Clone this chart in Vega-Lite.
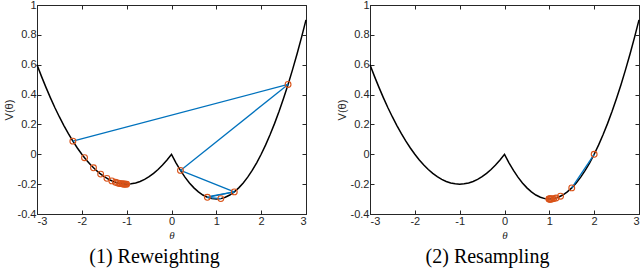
{
  "$schema": "https://vega.github.io/schema/vega-lite/v6.json",
  "padding": {"left": 2, "top": -2, "right": 0, "bottom": 0},
  "background": "white",
  "config": {
    "view": {"stroke": "#262626", "strokeWidth": 1},
    "axis": {
      "grid": false,
      "labelFont": "Liberation Sans",
      "labelFontSize": 11,
      "labelColor": "#262626",
      "domainColor": "#262626",
      "tickColor": "#262626",
      "tickSize": -4,
      "labelPadding": 5,
      "titleFont": "Liberation Sans",
      "titleFontSize": 11,
      "titleFontWeight": "normal",
      "titleColor": "#262626"
    },
    "title": {"font": "Liberation Serif", "fontSize": 20, "fontWeight": "normal", "color": "#000000"}
  },
  "datasets": {
    "curve": [
      {"t": -3.0, "v": 0.6}, {"t": -2.9, "v": 0.522}, {"t": -2.8, "v": 0.448}, {"t": -2.7, "v": 0.378},
      {"t": -2.6, "v": 0.312}, {"t": -2.5, "v": 0.25}, {"t": -2.4, "v": 0.192}, {"t": -2.3, "v": 0.138},
      {"t": -2.2, "v": 0.088}, {"t": -2.1, "v": 0.042}, {"t": -2.0, "v": 0.0}, {"t": -1.9, "v": -0.038},
      {"t": -1.8, "v": -0.072}, {"t": -1.7, "v": -0.102}, {"t": -1.6, "v": -0.128}, {"t": -1.5, "v": -0.15},
      {"t": -1.4, "v": -0.168}, {"t": -1.3, "v": -0.182}, {"t": -1.2, "v": -0.192}, {"t": -1.1, "v": -0.198},
      {"t": -1.0, "v": -0.2}, {"t": -0.9, "v": -0.198}, {"t": -0.8, "v": -0.192}, {"t": -0.7, "v": -0.182},
      {"t": -0.6, "v": -0.168}, {"t": -0.5, "v": -0.15}, {"t": -0.4, "v": -0.128}, {"t": -0.3, "v": -0.102},
      {"t": -0.2, "v": -0.072}, {"t": -0.1, "v": -0.038}, {"t": 0.0, "v": 0.0}, {"t": 0.1, "v": -0.057},
      {"t": 0.2, "v": -0.108}, {"t": 0.3, "v": -0.153}, {"t": 0.4, "v": -0.192}, {"t": 0.5, "v": -0.225},
      {"t": 0.6, "v": -0.252}, {"t": 0.7, "v": -0.273}, {"t": 0.8, "v": -0.288}, {"t": 0.9, "v": -0.297},
      {"t": 1.0, "v": -0.3}, {"t": 1.1, "v": -0.297}, {"t": 1.2, "v": -0.288}, {"t": 1.3, "v": -0.273},
      {"t": 1.4, "v": -0.252}, {"t": 1.5, "v": -0.225}, {"t": 1.6, "v": -0.192}, {"t": 1.7, "v": -0.153},
      {"t": 1.8, "v": -0.108}, {"t": 1.9, "v": -0.057}, {"t": 2.0, "v": 0.0}, {"t": 2.1, "v": 0.063},
      {"t": 2.2, "v": 0.132}, {"t": 2.3, "v": 0.207}, {"t": 2.4, "v": 0.288}, {"t": 2.5, "v": 0.375},
      {"t": 2.6, "v": 0.468}, {"t": 2.7, "v": 0.567}, {"t": 2.8, "v": 0.672}, {"t": 2.9, "v": 0.783},
      {"t": 3.0, "v": 0.9}
    ],
    "pts1": [
      {"t": -2.2, "v": 0.088}, {"t": -1.94, "v": -0.023}, {"t": -1.74, "v": -0.0905}, {"t": -1.58, "v": -0.1327},
      {"t": -1.44, "v": -0.1613}, {"t": -1.33, "v": -0.1782}, {"t": -1.25, "v": -0.1875}, {"t": -1.2, "v": -0.192},
      {"t": -1.16, "v": -0.1949}, {"t": -1.13, "v": -0.1966}, {"t": -1.1, "v": -0.198}, {"t": -1.08, "v": -0.1987},
      {"t": -1.06, "v": -0.1993}, {"t": -1.04, "v": -0.1997}, {"t": -1.02, "v": -0.1999}, {"t": -1.0, "v": -0.2},
      {"t": 2.6, "v": 0.468}, {"t": 0.2, "v": -0.108}, {"t": 1.4, "v": -0.252}, {"t": 0.8, "v": -0.288},
      {"t": 1.1, "v": -0.297}
    ],
    "seg1": [
      {"t": -2.2, "v": 0.088, "t2": 2.6, "v2": 0.468},
      {"t": 2.6, "v": 0.468, "t2": 0.2, "v2": -0.108},
      {"t": 0.2, "v": -0.108, "t2": 1.4, "v2": -0.252},
      {"t": 1.4, "v": -0.252, "t2": 0.8, "v2": -0.288},
      {"t": 0.8, "v": -0.288, "t2": 1.1, "v2": -0.297},
      {"t": 1.4, "v": -0.252, "t2": 0.85, "v2": -0.282}
    ],
    "pts2": [
      {"t": 2.0, "v": 0.0}, {"t": 1.5, "v": -0.225}, {"t": 1.25, "v": -0.281}, {"t": 1.15, "v": -0.293},
      {"t": 1.1, "v": -0.297}, {"t": 1.07, "v": -0.2985}, {"t": 1.05, "v": -0.2993}, {"t": 1.03, "v": -0.2997},
      {"t": 1.02, "v": -0.2999}, {"t": 1.01, "v": -0.3}, {"t": 1.0, "v": -0.3}, {"t": 0.99, "v": -0.3}
    ],
    "seg2": [
      {"t": 1.5, "v": -0.225, "t2": 2.0, "v2": 0.0}
    ]
  },
  "hconcat": [
    {
      "width": 269,
      "height": 209,
      "title": {"text": "(1) Reweighting", "orient": "bottom", "offset": 7, "dx": -17},
      "resolve": {"axis": {"x": "independent", "y": "independent"}},
      "layer": [
        {
          "data": {"name": "curve"},
          "mark": {"type": "line", "color": "#000000", "strokeWidth": 1.5},
          "encoding": {
            "x": {"field": "t", "type": "quantitative", "scale": {"domain": [-3, 3], "nice": false, "zero": false},
                  "axis": {"orient": "bottom", "values": [-3, -2, -1, 0, 1, 2, 3], "labelExpr": "'' + datum.value", "title": "θ", "titleFont": "Liberation Serif", "titleFontStyle": "italic", "titlePadding": 3}},
            "y": {"field": "v", "type": "quantitative", "scale": {"domain": [-0.4, 1], "nice": false, "zero": false},
                  "axis": {"orient": "left", "values": [-0.4, -0.2, 0, 0.2, 0.4, 0.6, 0.8, 1], "labelExpr": "'' + datum.value", "title": "V(θ)", "titlePadding": 3}}
          }
        },
        {
          "data": {"name": "seg1"},
          "mark": {"type": "rule", "color": "#0072BD", "strokeWidth": 1.3},
          "encoding": {
            "x": {"field": "t", "type": "quantitative", "scale": {"domain": [-3, 3], "nice": false, "zero": false},
                  "axis": {"orient": "top", "values": [-3, -2, -1, 0, 1, 2, 3], "labels": false, "domain": false, "title": null}},
            "y": {"field": "v", "type": "quantitative", "scale": {"domain": [-0.4, 1], "nice": false, "zero": false},
                  "axis": {"orient": "right", "values": [-0.4, -0.2, 0, 0.2, 0.4, 0.6, 0.8, 1], "labels": false, "domain": false, "title": null}},
            "x2": {"field": "t2"},
            "y2": {"field": "v2"}
          }
        },
        {
          "data": {"name": "pts1"},
          "mark": {"type": "point", "shape": "circle", "filled": false, "color": "#D95319", "size": 34, "strokeWidth": 1.1, "opacity": 1},
          "encoding": {
            "x": {"field": "t", "type": "quantitative", "axis": null},
            "y": {"field": "v", "type": "quantitative", "axis": null}
          }
        }
      ]
    },
    {
      "width": 269,
      "height": 209,
      "title": {"text": "(2) Resampling", "orient": "bottom", "offset": 7, "dx": -17},
      "resolve": {"axis": {"x": "independent", "y": "independent"}},
      "layer": [
        {
          "data": {"name": "curve"},
          "mark": {"type": "line", "color": "#000000", "strokeWidth": 1.5},
          "encoding": {
            "x": {"field": "t", "type": "quantitative", "scale": {"domain": [-3, 3], "nice": false, "zero": false},
                  "axis": {"orient": "bottom", "values": [-3, -2, -1, 0, 1, 2, 3], "labelExpr": "'' + datum.value", "title": "θ", "titleFont": "Liberation Serif", "titleFontStyle": "italic", "titlePadding": 3}},
            "y": {"field": "v", "type": "quantitative", "scale": {"domain": [-0.4, 1], "nice": false, "zero": false},
                  "axis": {"orient": "left", "values": [-0.4, -0.2, 0, 0.2, 0.4, 0.6, 0.8, 1], "labelExpr": "'' + datum.value", "title": "V(θ)", "titlePadding": 3}}
          }
        },
        {
          "data": {"name": "seg2"},
          "mark": {"type": "rule", "color": "#0072BD", "strokeWidth": 1.3},
          "encoding": {
            "x": {"field": "t", "type": "quantitative", "scale": {"domain": [-3, 3], "nice": false, "zero": false},
                  "axis": {"orient": "top", "values": [-3, -2, -1, 0, 1, 2, 3], "labels": false, "domain": false, "title": null}},
            "y": {"field": "v", "type": "quantitative", "scale": {"domain": [-0.4, 1], "nice": false, "zero": false},
                  "axis": {"orient": "right", "values": [-0.4, -0.2, 0, 0.2, 0.4, 0.6, 0.8, 1], "labels": false, "domain": false, "title": null}},
            "x2": {"field": "t2"},
            "y2": {"field": "v2"}
          }
        },
        {
          "data": {"name": "pts2"},
          "mark": {"type": "point", "shape": "circle", "filled": false, "color": "#D95319", "size": 34, "strokeWidth": 1.1, "opacity": 1},
          "encoding": {
            "x": {"field": "t", "type": "quantitative", "axis": null},
            "y": {"field": "v", "type": "quantitative", "axis": null}
          }
        }
      ]
    }
  ],
  "spacing": 25
}
